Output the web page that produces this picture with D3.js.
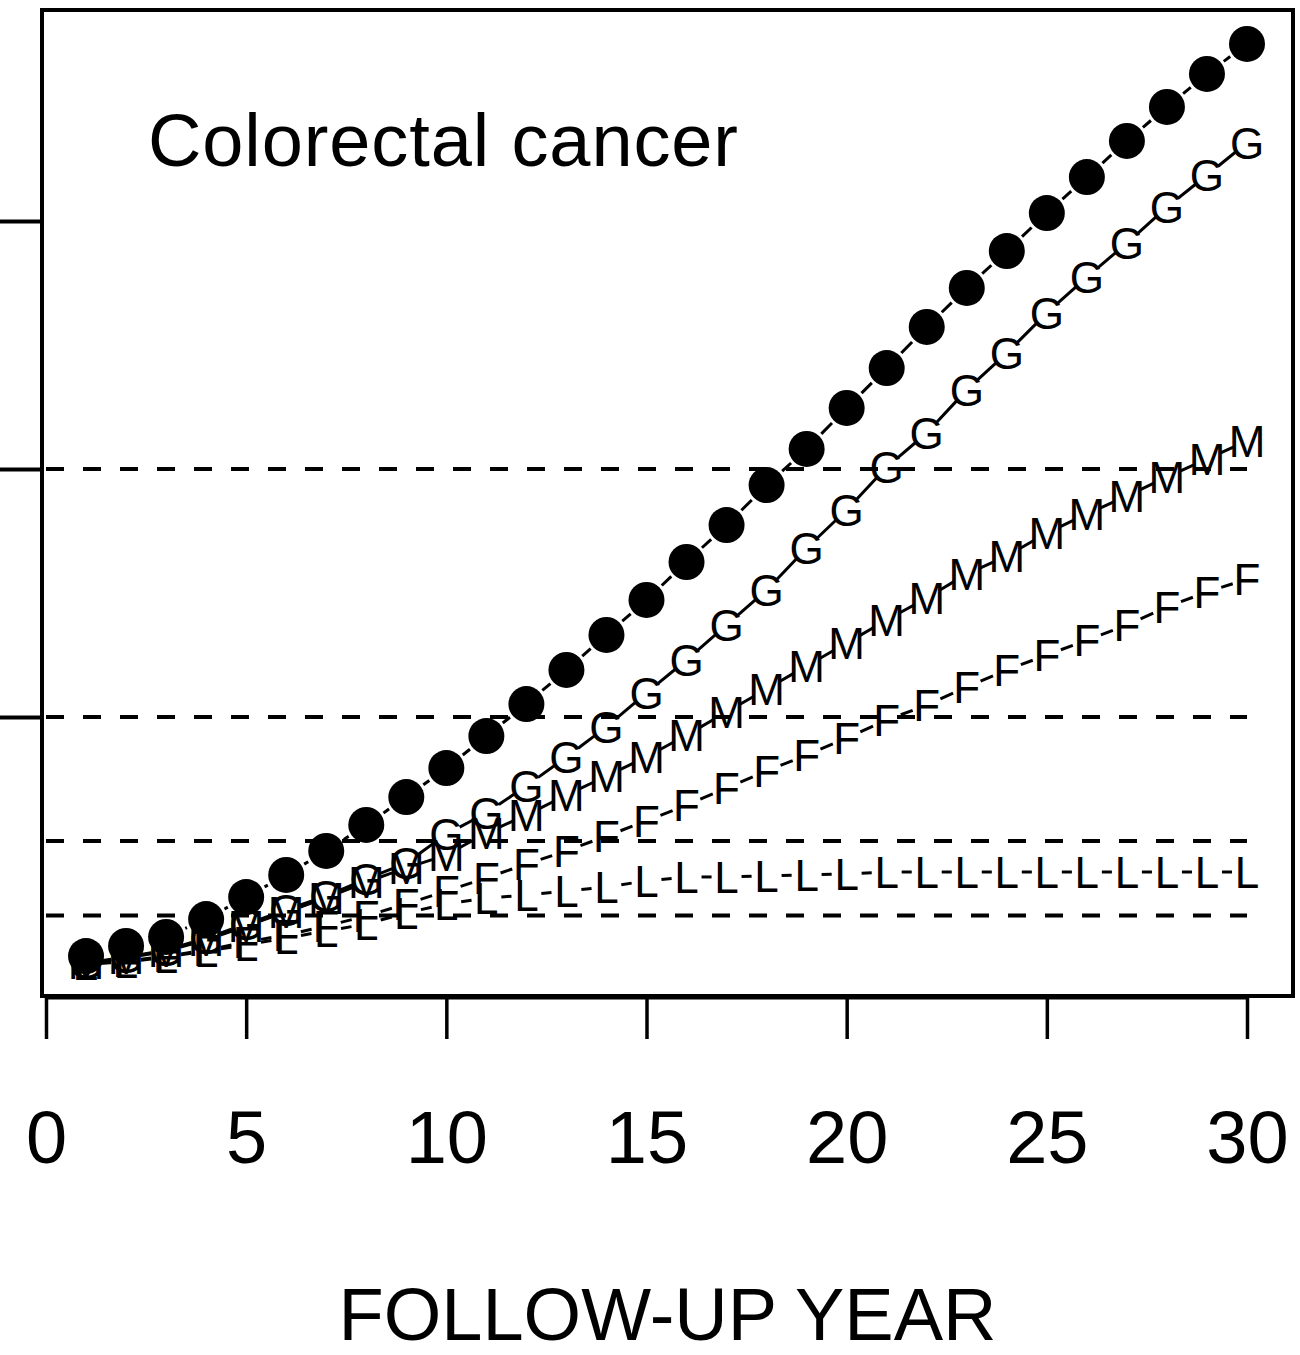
<!DOCTYPE html>
<html>
<head>
<meta charset="utf-8">
<script src="https://cdn.jsdelivr.net/npm/d3@7"></script>
<style>
  body { margin: 0; background: #fff; }
  svg { display: block; font-family: "Liberation Sans", Arial, sans-serif; }
</style>
</head>
<body>
<svg class="chart"></svg>
<script>
// data (cumulative values per follow-up year)
const years = [1,2,3,4,5,6,7,8,9,10,11,12,13,14,15,16,17,18,19,20,21,22,23,24,25,26,27,28,29,30]

const allValues = [0.036,0.077,0.113,0.185,0.274,0.363,0.460,0.565,0.677,0.794,
  0.923,1.052,1.190,1.331,1.472,1.625,1.774,1.935,2.081,2.246,
  2.407,2.573,2.730,2.879,3.032,3.177,3.323,3.460,3.593,3.714]
const gValues = [0.008,0.032,0.060,0.109,0.165,0.222,0.278,0.347,0.411,0.528,
  0.613,0.722,0.839,0.960,1.097,1.230,1.371,1.512,1.681,1.835,
  2.008,2.145,2.319,2.468,2.629,2.774,2.911,3.056,3.185,3.315]
const mValues = [0.008,0.028,0.056,0.101,0.157,0.214,0.270,0.335,0.391,0.444,
  0.532,0.605,0.685,0.762,0.839,0.927,1.020,1.113,1.206,1.298,
  1.391,1.480,1.577,1.649,1.742,1.819,1.891,1.968,2.040,2.113]
const fValues = [0.004,0.016,0.036,0.060,0.093,0.121,0.157,0.198,0.246,0.298,
  0.351,0.407,0.460,0.520,0.581,0.645,0.714,0.782,0.847,0.915,
  0.988,1.048,1.121,1.190,1.250,1.310,1.371,1.444,1.504,1.556]
const lValues = [0.004,0.012,0.032,0.056,0.081,0.109,0.137,0.165,0.210,0.246,
  0.270,0.282,0.298,0.315,0.339,0.355,0.355,0.359,0.363,0.367,
  0.375,0.375,0.375,0.375,0.375,0.375,0.375,0.375,0.375,0.375]

const letterSeries = [
  { symbol: "G", values: gValues },
  { symbol: "M", values: mValues },
  { symbol: "F", values: fValues },
  { symbol: "L", values: lValues }
]

const xTicks = [0,5,10,15,20,25,30]
const yTicks = [1,2,3]
const refLines = [0.2,0.5,1,2]
const title = "Colorectal cancer"
const xTitle = "FOLLOW-UP YEAR"

function drawChart() {
  const width = 1300
  const height = 1355
  const box = { left: 42, top: 10, right: 1293, bottom: 996 }

  const svg = d3.select("svg.chart")
    .attr("width", width)
    .attr("height", height)

  const x = d3.scaleLinear().domain([0, 30]).range([46, 1247])
  const y = d3.scaleLinear().domain([0, 3]).range([965, 221])

  // dashed reference lines
  svg.selectAll("line.ref")
    .data(refLines)
    .enter()
    .append("line")
    .attr("class", "ref")
    .attr("x1", x(0))
    .attr("x2", x(30))
    .attr("y1", d => y(d))
    .attr("y2", d => y(d))
    .attr("stroke", "#000")
    .attr("stroke-width", 4)
    .attr("stroke-dasharray", "18,19")

  // type "b" lines: segments with a gap around each point
  function gapSegments(values, gap) {
    const segs = []
    for (let i = 0; i < values.length - 1; i++) {
      const x1 = x(years[i]), y1 = y(values[i])
      const x2 = x(years[i + 1]), y2 = y(values[i + 1])
      const len = Math.hypot(x2 - x1, y2 - y1)
      if (len <= 2 * gap) continue
      const ux = (x2 - x1) / len, uy = (y2 - y1) / len
      segs.push([x1 + ux * gap, y1 + uy * gap, x2 - ux * gap, y2 - uy * gap])
    }
    return segs
  }

  const plot = svg.append("g")

  plot.selectAll("line.all")
    .data(gapSegments(allValues, 21))
    .enter()
    .append("line")
    .attr("x1", d => d[0]).attr("y1", d => d[1])
    .attr("x2", d => d[2]).attr("y2", d => d[3])
    .attr("stroke", "#000")
    .attr("stroke-width", 3)

  plot.selectAll("circle")
    .data(allValues)
    .enter()
    .append("circle")
    .attr("cx", (d, i) => x(years[i]))
    .attr("cy", d => y(d))
    .attr("r", 18)
    .attr("fill", "#000")

  letterSeries.forEach(s => {
    const g = plot.append("g")
    g.selectAll("line")
      .data(gapSegments(s.values, 15))
      .enter()
      .append("line")
      .attr("x1", d => d[0]).attr("y1", d => d[1])
      .attr("x2", d => d[2]).attr("y2", d => d[3])
      .attr("stroke", "#000")
      .attr("stroke-width", 3)
    g.selectAll("text")
      .data(s.values)
      .enter()
      .append("text")
      .attr("x", (d, i) => x(years[i]))
      .attr("y", d => y(d) + 15.7)
      .attr("text-anchor", "middle")
      .attr("font-size", 44)
      .attr("fill", "#000")
      .text(s.symbol)
  })

  // frame
  svg.append("rect")
    .attr("x", box.left)
    .attr("y", box.top)
    .attr("width", box.right - box.left)
    .attr("height", box.bottom - box.top)
    .attr("fill", "none")
    .attr("stroke", "#000")
    .attr("stroke-width", 4)

  // x axis
  const xAxis = svg.append("g")
    .attr("transform", `translate(0, ${box.bottom + 1})`)
    .call(d3.axisBottom(x).tickValues(xTicks).tickSize(42).tickSizeOuter(0).tickPadding(124))
  xAxis.select(".domain").attr("stroke-width", 4)
  xAxis.selectAll(".tick line").attr("stroke-width", 3.5)
  xAxis.selectAll(".tick text")
    .attr("font-size", 74)
    .attr("font-family", "Liberation Sans, Arial, sans-serif")
    .attr("dy", 0)

  // y axis ticks (labels fall outside the picture)
  const yAxis = svg.append("g")
    .attr("transform", `translate(${box.left}, 0)`)
    .call(d3.axisLeft(y).tickValues(yTicks).tickSize(60).tickSizeOuter(0).tickFormat(""))
  yAxis.select(".domain").remove()
  yAxis.selectAll(".tick line").attr("stroke-width", 4)

  // texts
  svg.append("text")
    .attr("x", 148)
    .attr("y", 166)
    .attr("font-size", 74)
    .attr("textLength", 590)
    .attr("lengthAdjust", "spacing")
    .text(title)

  svg.append("text")
    .attr("x", (box.left + box.right) / 2)
    .attr("y", 1340)
    .attr("text-anchor", "middle")
    .attr("font-size", 74)
    .text(xTitle)
}

drawChart()
</script>
</body>
</html>
